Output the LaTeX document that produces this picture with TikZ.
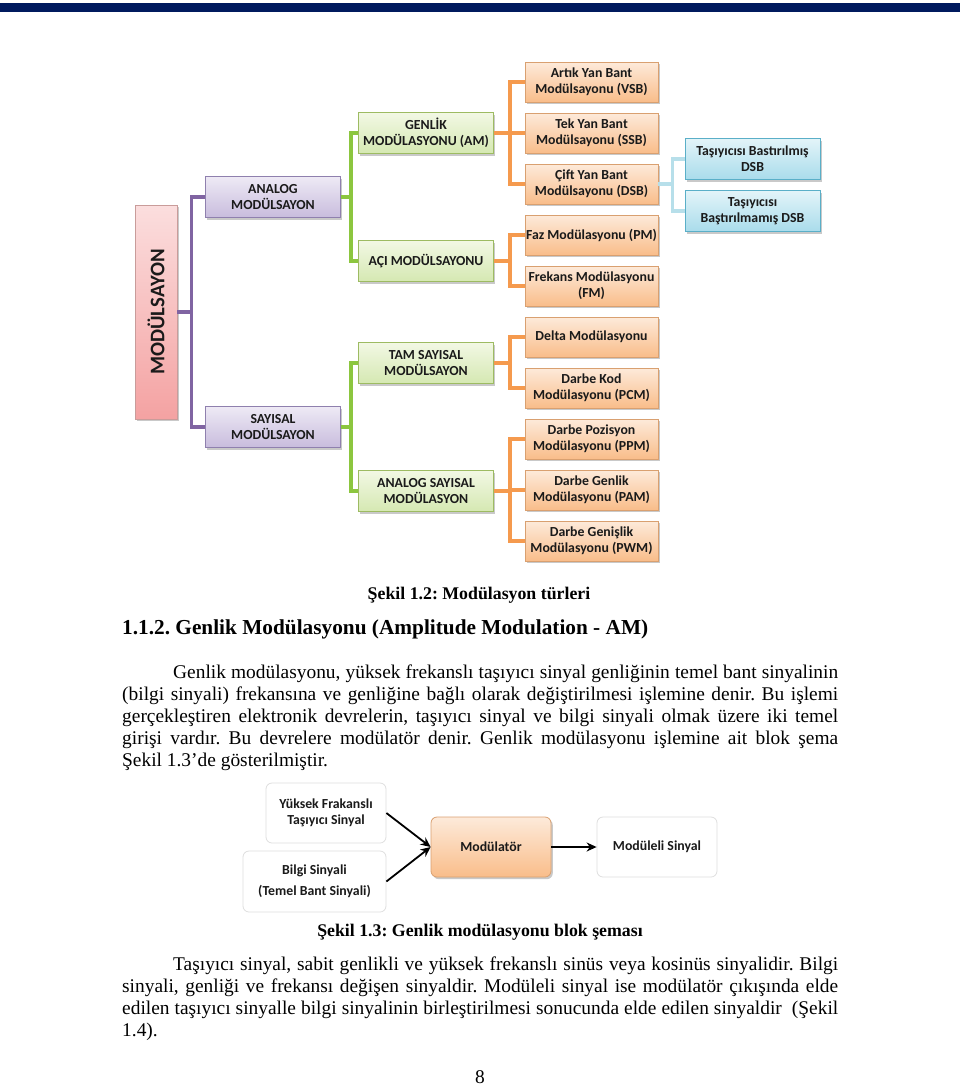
\documentclass[tikz,border=0pt]{standalone}
\usepackage{fontspec}
\setmainfont{Liberation Serif}
\newfontfamily\carl{Carlito}
\usetikzlibrary{shadows,arrows.meta}
\frenchspacing
\definecolor{navy}{HTML}{001A5E}
\definecolor{otop}{HTML}{FDEADA}
\definecolor{obot}{HTML}{F9BD8A}
\definecolor{oedge}{HTML}{D9A070}
\definecolor{oline}{HTML}{F59A4E}
\definecolor{gtop}{HTML}{F2F8E4}
\definecolor{gbot}{HTML}{D5E8B2}
\definecolor{gedge}{HTML}{9DBB62}
\definecolor{gline}{HTML}{8CC63F}
\definecolor{ptop}{HTML}{EEEAF5}
\definecolor{pbot}{HTML}{C8BCDD}
\definecolor{pedge}{HTML}{8F80AE}
\definecolor{pline}{HTML}{8064A2}
\definecolor{btop}{HTML}{E3F4F9}
\definecolor{bbot}{HTML}{A9DCEB}
\definecolor{bedge}{HTML}{5AAFC8}
\definecolor{bline}{HTML}{B7DFEA}
\definecolor{rtop}{HTML}{FBDEDE}
\definecolor{rbot}{HTML}{F4A2A2}
\definecolor{redge}{HTML}{C99C9A}
\definecolor{txt}{HTML}{1A1A1A}
\tikzset{
  mbox/.style={draw, line width=0.8pt, minimum width=135pt, minimum height=41pt,
    inner sep=1pt, align=center, text=txt,
    font=\carl\bfseries\fontsize{13.8}{16}\selectfont,
    drop shadow={shadow xshift=1.8pt, shadow yshift=-2.2pt, opacity=0.3, fill=black!70}},
  obox/.style={mbox, draw=oedge, top color=otop, bottom color=obot, minimum width=133pt, minimum height=40pt},
  gbox/.style={mbox, draw=gedge, top color=gtop, bottom color=gbot},
  pbox/.style={mbox, draw=pedge, top color=ptop, bottom color=pbot},
  bbox/.style={mbox, draw=bedge, top color=btop, bottom color=bbot},
  conn/.style={line width=3.4pt},
  softbox/.style={draw=black!13, line width=0.8pt, rounded corners=6pt, minimum width=120pt,
    minimum height=60pt, align=center, text=txt, font=\carl\bfseries\fontsize{13.8}{16}\selectfont},
  arr/.style={line width=1.8pt, -{Stealth[length=10pt,width=9pt]}},
  body/.style={font=\fontsize{19.4}{21.9}\selectfont, text width=716pt, align=justify, inner sep=0pt, anchor=north west},
}
\begin{document}
\begin{tikzpicture}[x=1pt,y=-1pt]
\useasboundingbox (0,0) rectangle (960,1087);
\fill[navy] (0,3) rectangle (960,12);
% ---------- figure 1.2 ----------
\node[mbox, draw=redge, top color=rtop, bottom color=rbot, minimum width=42pt, minimum height=214pt] (mod) at (156,312) {};
\node[rotate=90, font=\carl\bfseries\fontsize{20.7}{24}\selectfont, text=txt] (modt) at (mod.center) {MODÜLSAYON};
\node[pbox] (analog) at (273,197) {ANALOG\\MODÜLSAYON};
\node[pbox] (sayisal) at (273,427) {SAYISAL\\MODÜLSAYON};
\node[gbox] (genlik) at (426,133) {GENLİK\\MODÜLASYONU (AM)};
\node[gbox] (aci) at (426,261) {AÇI MODÜLSAYONU};
\node[gbox] (tam) at (426,363) {TAM SAYISAL\\MODÜLSAYON};
\node[gbox] (asay) at (426,491) {ANALOG SAYISAL\\MODÜLASYON};
\node[obox] (vsb) at (591.5,82) {Artık Yan Bant\\Modülsayonu (VSB)};
\node[obox] (ssb) at (591.5,133) {Tek Yan Bant\\Modülsayonu (SSB)};
\node[obox] (dsb) at (591.5,184) {Çift Yan Bant\\Modülsayonu (DSB)};
\node[obox] (pm) at (591.5,235) {Faz Modülasyonu (PM)};
\node[obox] (fm) at (591.5,286) {Frekans Modülasyonu\\(FM)};
\node[obox] (delta) at (591.5,337) {Delta Modülasyonu};
\node[obox] (pcm) at (591.5,388) {Darbe Kod\\Modülasyonu (PCM)};
\node[obox] (ppm) at (591.5,439) {Darbe Pozisyon\\Modülasyonu (PPM)};
\node[obox] (pam) at (591.5,490) {Darbe Genlik\\Modülasyonu (PAM)};
\node[obox] (pwm) at (591.5,541) {Darbe Genişlik\\Modülasyonu (PWM)};
\node[bbox] (tb) at (752.5,159) {Taşıyıcısı Bastırılmış\\DSB};
\node[bbox] (tbm) at (752.5,211) {Taşıyıcısı\\Baştırılmamış DSB};
% connectors
\draw[conn, pline] (mod.east) -- ++(14,0) |- (analog.west);
\draw[conn, pline] (mod.east) -- ++(14,0) |- (sayisal.west);
\draw[conn, gline] (analog.east) -- ++(10,0) |- (genlik.west);
\draw[conn, gline] (analog.east) -- ++(10,0) |- (aci.west);
\draw[conn, gline] (sayisal.east) -- ++(10,0) |- (tam.west);
\draw[conn, gline] (sayisal.east) -- ++(10,0) |- (asay.west);
\foreach \c in {vsb,ssb,dsb} \draw[conn, oline] (genlik.east) -- ++(16,0) |- (\c.west);
\foreach \c in {pm,fm} \draw[conn, oline] (aci.east) -- ++(16,0) |- (\c.west);
\foreach \c in {delta,pcm} \draw[conn, oline] (tam.east) -- ++(16,0) |- (\c.west);
\foreach \c in {ppm,pam,pwm} \draw[conn, oline] (asay.east) -- ++(16,0) |- (\c.west);
\draw[conn, bline] (dsb.east) -- ++(14,0) |- (tb.west);
\draw[conn, bline] (dsb.east) -- ++(14,0) |- (tbm.west);
% ---------- texts ----------
\node[font=\bfseries\fontsize{17.8}{20}\selectfont] (cap1) at (479,595) {Şekil 1.2: Modülasyon türleri};
\node[anchor=west, font=\bfseries\fontsize{21.3}{25}\selectfont, inner sep=0pt] (head) at (122,629) {1.1.2. Genlik Modülasyonu (Amplitude Modulation - AM)};
\node[body] (par1) at (122,665) {\hspace*{51pt}Genlik modülasyonu, yüksek frekanslı taşıyıcı sinyal genliğinin temel bant sinyalinin\linebreak
(bilgi sinyali) frekansına ve genliğine bağlı olarak değiştirilmesi işlemine denir. Bu işlemi\linebreak
gerçekleştiren elektronik devrelerin, taşıyıcı sinyal ve bilgi sinyali olmak üzere iki temel\linebreak
girişi vardır. Bu devrelere modülatör denir. Genlik modülasyonu işlemine ait blok şema\linebreak
Şekil 1.3’de gösterilmiştir.};
% ---------- figure 1.3 ----------
\node[softbox] (yuk) at (326,813) {Yüksek Frakanslı\\Taşıyıcı Sinyal};
\node[softbox, minimum width=143pt, minimum height=61pt] (bilgi) at (314.5,881.5) {Bilgi Sinyali\\[5pt](Temel Bant Sinyali)};
\node[mbox, draw=oedge, top color=otop, bottom color=obot, rounded corners=6pt, minimum width=120pt, minimum height=60pt] (modr) at (491,847) {Modülatör};
\node[softbox] (msin) at (657,847) {Modüleli Sinyal};
\draw[arr] (yuk.east) -- (modr.west);
\draw[arr] (bilgi.east) -- (modr.west);
\draw[arr] (modr.east) -- (msin.west);
\node[font=\bfseries\fontsize{17.8}{20}\selectfont] (cap2) at (480,932) {Şekil 1.3: Genlik modülasyonu blok şeması};
\node[body] (par2) at (122,957) {\hspace*{51pt}Taşıyıcı sinyal, sabit genlikli ve yüksek frekanslı sinüs veya kosinüs sinyalidir. Bilgi\linebreak
sinyali, genliği ve frekansı değişen sinyaldir. Modüleli sinyal ise modülatör çıkışında elde\linebreak
edilen taşıyıcı sinyalle bilgi sinyalinin birleştirilmesi sonucunda elde edilen sinyaldir~~(Şekil\linebreak
1.4).};
\node[font=\fontsize{19.4}{22}\selectfont] (pnum) at (480,1077) {8};
\end{tikzpicture}
\end{document}
